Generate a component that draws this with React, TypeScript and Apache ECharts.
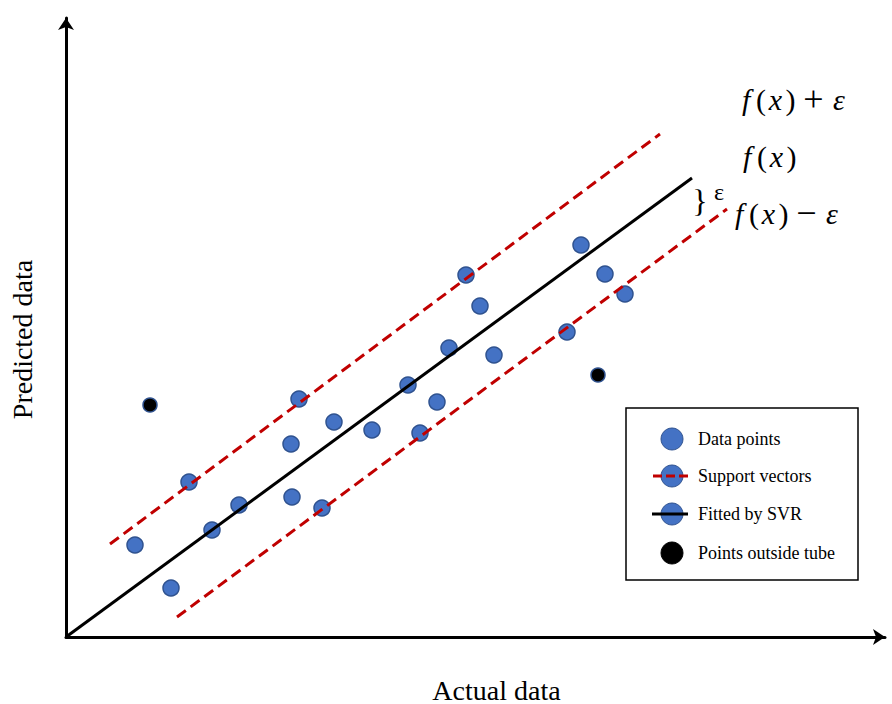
import React, { useEffect, useRef } from "react";
import * as echarts from "echarts";

// Values are in plot units (origin at the axes' crossing)
const dataPoints: [number, number][] = [
  [69, 92], [105, 49], [123, 155], [146, 107], [173, 132], [225, 193],
  [226, 140], [233, 238], [256, 129], [268, 215], [306, 207], [342, 252],
  [354, 204], [371, 235], [383, 289], [400, 362], [414, 331], [428, 282],
  [501, 305], [515, 392], [539, 363], [559, 343],
];
const outsidePoints: [number, number][] = [
  [84, 232], [532, 262],
];
const fitLine: [number, number][] = [[0, 0], [626, 459]];
const upperTube: [number, number][] = [[44, 93], [594, 503]];
const lowerTube: [number, number][] = [[111, 20], [661, 428]];

const xAxisTitle = "Actual data";
const yAxisTitle = "Predicted data";
const legendLabels = ["Data points", "Support vectors", "Fitted by SVR", "Points outside tube"];

const BLUE = "#4472C4";
const BLUE_EDGE = "#2F528F";
const RED = "#C00000";
const SERIF = "Liberation Serif";
const MATH = "Liberation Serif";

function mathText(x: number, y: number, text: string, size: number) {
  const base = { fontFamily: MATH, fontSize: size, fill: "#000", verticalAlign: "middle" };
  return {
    type: "text",
    x,
    y,
    silent: true,
    style: {
      text,
      fontFamily: MATH,
      fontSize: size,
      rich: {
        f: { ...base, fontStyle: "italic", width: 14, align: "left" },
        lp: { ...base, width: 10, align: "center" },
        x: { ...base, fontStyle: "italic", width: 19, align: "center" },
        rp: { ...base, width: 11, align: "center" },
        op: { ...base, fontSize: size + 6, width: 35, align: "center" },
        e: { ...base, fontStyle: "italic", width: 16, align: "left" },
      },
      textAlign: "left",
      textVerticalAlign: "middle",
      align: "left",
      verticalAlign: "middle",
    },
  };
}

export default function App() {
  const ref = useRef<HTMLDivElement>(null);

  useEffect(() => {
    if (!ref.current) return;
    const chart = echarts.init(ref.current, null, { renderer: "svg" });

    const legendX = 672;
    const legendYs = [439, 476, 514, 553];
    const textStyle = (s: string, y: number) => ({
      type: "text",
      x: 698,
      y,
      silent: true,
      style: {
        text: s,
        font: `18px "${SERIF}"`,
        fill: "#000",
        textAlign: "left",
        textVerticalAlign: "middle",
        align: "left",
        verticalAlign: "middle",
      },
    });
    const circ = (y: number, fill: string) => ({
      type: "circle",
      shape: { cx: legendX, cy: y, r: 11 },
      silent: true,
      style: { fill, stroke: BLUE_EDGE, lineWidth: 1 },
    });

    const option: any = {
      animation: false,
      backgroundColor: "#fff",
      grid: {
        left: 66,
        top: 18,
        width: 819,
        height: 619,
        containLabel: false,
        outerBoundsMode: "none",
      },
      xAxis: {
        type: "value",
        min: 0,
        max: 819,
        name: xAxisTitle,
        nameLocation: "middle",
        nameGap: 39,
        nameTextStyle: { fontFamily: SERIF, fontSize: 28, color: "#000", padding: [0, 0, 0, 42] },
        axisLine: {
          show: true,
          symbol: ["none", "arrow"],
          symbolSize: [12, 12],
          lineStyle: { color: "#000", width: 3 },
        },
        axisTick: { show: false },
        axisLabel: { show: false },
        splitLine: { show: false },
      },
      yAxis: {
        type: "value",
        min: 0,
        max: 619,
        name: yAxisTitle,
        nameLocation: "middle",
        nameGap: 30,
        nameTextStyle: { fontFamily: SERIF, fontSize: 28, color: "#000", padding: [0, 24, 0, 0] },
        axisLine: {
          show: true,
          symbol: ["none", "arrow"],
          symbolSize: [12, 12],
          lineStyle: { color: "#000", width: 3 },
        },
        axisTick: { show: false },
        axisLabel: { show: false },
        splitLine: { show: false },
      },
      series: [
        {
          name: legendLabels[0],
          type: "scatter",
          data: dataPoints,
          symbolSize: 16,
          silent: true,
          z: 2,
          itemStyle: { color: BLUE, borderColor: BLUE_EDGE, borderWidth: 1.5, opacity: 1 },
        },
        {
          name: legendLabels[3],
          type: "scatter",
          data: outsidePoints,
          symbolSize: 14,
          silent: true,
          z: 2,
          itemStyle: { color: "#000", borderColor: BLUE_EDGE, borderWidth: 1.5, opacity: 1 },
        },
        {
          name: legendLabels[1] + " upper",
          type: "line",
          data: upperTube,
          showSymbol: false,
          silent: true,
          z: 3,
          lineStyle: { color: RED, width: 3, type: [11, 6] },
        },
        {
          name: legendLabels[1] + " lower",
          type: "line",
          data: lowerTube,
          showSymbol: false,
          silent: true,
          z: 3,
          lineStyle: { color: RED, width: 3, type: [11, 6] },
        },
        {
          name: legendLabels[2],
          type: "line",
          data: fitLine,
          showSymbol: false,
          silent: true,
          z: 3,
          lineStyle: { color: "#000", width: 3 },
        },
      ],
      graphic: [
        mathText(742, 99, "{f|f}{lp|(}{x|x}{rp|)}{op|+}{e|ε}", 30),
        mathText(743, 156, "{f|f}{lp|(}{x|x}{rp|)}", 30),
        mathText(735, 213, "{f|f}{lp|(}{x|x}{rp|)}{op|−}{e|ε}", 30),
        {
          type: "text",
          x: 700,
          y: 201,
          silent: true,
          style: {
            text: "}",
            font: `32px "${SERIF}"`,
            fill: "#000",
            textAlign: "center",
            textVerticalAlign: "middle",
            align: "center",
            verticalAlign: "middle",
          },
        },
        {
          type: "text",
          x: 719,
          y: 192,
          silent: true,
          style: {
            text: "ε",
            font: `24px "${SERIF}"`,
            fill: "#000",
            textAlign: "center",
            textVerticalAlign: "middle",
            align: "center",
            verticalAlign: "middle",
          },
        },
        {
          type: "rect",
          shape: { x: 626, y: 408, width: 232, height: 172 },
          silent: true,
          style: { fill: "#fff", stroke: "#000", lineWidth: 1.5 },
        },
        circ(legendYs[0], BLUE),
        circ(legendYs[1], BLUE),
        {
          type: "line",
          shape: { x1: 653, y1: legendYs[1], x2: 691, y2: legendYs[1] },
          silent: true,
          style: { stroke: RED, lineWidth: 3, lineDash: [9, 4] },
        },
        circ(legendYs[2], BLUE),
        {
          type: "line",
          shape: { x1: 652, y1: legendYs[2], x2: 688, y2: legendYs[2] },
          silent: true,
          style: { stroke: "#000", lineWidth: 3 },
        },
        { ...circ(legendYs[3], "#000"), style: { fill: "#000", stroke: "#000", lineWidth: 1 } },
        textStyle(legendLabels[0], legendYs[0]),
        textStyle(legendLabels[1], legendYs[1]),
        textStyle(legendLabels[2], legendYs[2]),
        textStyle(legendLabels[3], legendYs[3]),
      ],
    };

    chart.setOption(option);
    return () => {
      chart.dispose();
    };
  }, []);

  return (
    <div
      ref={ref}
      style={{ position: "fixed", left: 0, top: 0, width: 892, height: 704, background: "#fff" }}
    />
  );
}
